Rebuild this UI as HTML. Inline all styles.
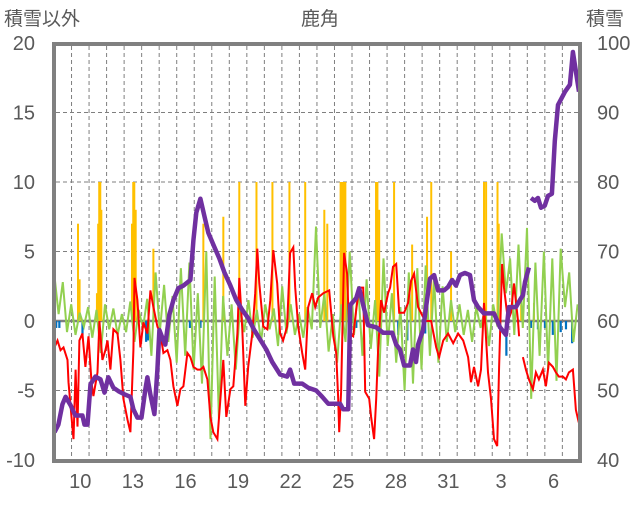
<!DOCTYPE html>
<html><head><meta charset="utf-8"><style>
html,body{margin:0;padding:0;background:#fff}
svg text{font-family:"Liberation Sans","Noto Sans CJK JP",sans-serif;fill:#595959}
</style></head><body>
<svg id="chart" width="636" height="501" viewBox="0 0 636 501" xmlns="http://www.w3.org/2000/svg">
<text x="4" y="25" font-size="19">積雪以外</text>
<text x="320" y="25" font-size="19" text-anchor="middle">鹿角</text>
<text x="586" y="25" font-size="19">積雪</text>
<g id="grid"></g><g id="bars"></g><g id="lines"></g><g id="axes"></g>
</svg>
<script>
const dayLabels=["10","13","16","19","22","25","28","31","3","6"];
const dayLabelOffsets=[1,4,7,10,13,16,19,22,25,28];
const leftTicks=[20,15,10,5,0,-5,-10];
const rightTicks=[100,90,80,70,60,50,40];
const snowT=[0.03,0.25,0.48,0.66,0.94,1.22,1.62,1.74,1.91,2.08,2.36,2.65,2.88,3.1,3.39,3.68,4.07,4.36,4.53,4.76,4.99,5.21,5.33,5.5,5.73,5.9,6.01,6.18,6.35,6.58,6.81,7.09,7.38,7.78,7.95,8.12,8.35,8.58,8.8,9.14,9.43,9.72,10.06,10.4,10.74,11.08,11.42,11.77,12.11,12.45,12.9,13.3,13.47,13.7,14.16,14.5,14.96,15.3,15.64,16.32,16.5,16.78,16.9,17.24,17.41,17.64,17.92,18.38,18.78,19.29,19.52,19.74,19.97,20.31,20.48,20.65,20.77,21.05,21.28,21.45,21.68,21.91,22.25,22.48,22.71,22.93,23.16,23.44,23.73,23.96,24.19,24.53,25.1,25.44,25.78,25.95,26.35,26.58,26.75,26.87,27.09,27.15,27.21,27.43,27.61,27.78,28.0,28.18,28.4,28.57,28.75,28.92,29.15,29.43,29.6,29.77,29.95];
const snowV=[44,45.1,48,49.1,47.9,46.4,46.4,45.1,45.1,50.9,52,51.6,49.7,51.9,50.4,49.9,49.4,49.1,47.3,46.1,46.1,50.1,51.9,49.4,46.6,53,58.7,57.6,56.6,60.9,63,64.7,65.1,65.9,71.6,75.6,77.6,75.1,72.7,70.7,69,67,65.1,63,61.6,60.4,58.7,57.3,55.9,54.1,52.3,52,53,51,51,50.4,50,49.1,48.1,48.1,47.3,47.3,62.3,63.3,64.7,62.3,59.4,59.1,58.3,58.3,56.6,55.9,53.6,53.6,55.9,54.1,56.6,58.7,63,66.1,66.6,64.4,64.4,64.9,65.9,65.1,66.6,66.9,66.6,63,62,61.1,61.1,59.1,58,62,62,63,63.7,65.6,67.7,null,77.7,77.3,77.7,76.3,76.6,78,78.3,85.9,91.1,91.9,93,94,98.7,95.9,93];
const tempT=[0.03,0.2,0.37,0.54,0.77,0.83,1.0,1.11,1.23,1.34,1.45,1.62,1.79,1.97,2.14,2.25,2.48,2.59,2.76,2.93,3.05,3.22,3.39,3.62,3.79,3.96,4.19,4.36,4.53,4.59,4.76,4.93,5.1,5.33,5.5,5.67,5.9,6.07,6.24,6.47,6.64,6.81,7.04,7.21,7.38,7.61,7.78,7.95,8.18,8.35,8.52,8.75,8.92,9.09,9.32,9.49,9.66,9.83,10.06,10.23,10.46,10.57,10.74,10.91,11.08,11.31,11.48,11.6,11.71,11.94,12.17,12.34,12.51,12.73,12.9,13.07,13.3,13.47,13.65,13.76,13.93,14.16,14.33,14.5,14.73,14.9,15.07,15.36,15.7,15.93,16.1,16.21,16.27,16.38,16.55,16.72,16.84,17.07,17.24,17.41,17.64,17.75,17.98,18.09,18.26,18.38,18.49,18.66,18.83,19.06,19.17,19.34,19.52,19.69,19.97,20.2,20.37,20.54,20.77,21.05,21.22,21.51,21.8,21.97,22.2,22.48,22.77,23.05,23.34,23.62,23.79,23.96,24.19,24.36,24.53,24.76,24.93,25.1,25.28,25.39,25.56,25.67,25.9,26.07,26.24,26.47,26.53,26.6,26.75,26.92,27.09,27.32,27.49,27.66,27.89,28.06,28.23,28.46,28.63,28.8,29.03,29.2,29.37,29.6,29.77,29.94];
const tempV=[-1.9,-1.4,-2.1,-1.9,-2.8,-4.4,-6.9,-8.5,-3.5,-7.6,-1.4,-0.9,-3.3,-1.1,-4.4,-5.4,-3.7,0,-2.8,-2.1,-1.4,-3.5,-0.6,-0.9,-2.8,-5.6,-7.1,-8,-2.1,3.1,1.5,-1.9,-0.1,-0.9,2.2,1,-0.4,-0.9,-2.3,-2.1,-2.8,-4.7,-6.1,-4.9,-4.7,-2.3,-2.6,-3.3,-3.5,-3.5,-3.3,-4.2,-6.9,-8,-8.5,-5.6,-2.8,-6.9,-4.9,-4.7,-0.9,3.1,-0.6,-6.1,-3.3,-0.9,2,5.2,2.7,-0.4,-0.6,1.5,5.1,2.7,-0.9,-1.4,-0.4,4.9,5.3,2.4,-0.4,-2.3,-3.5,1,2,1,1.7,2,2.2,-1.1,-2.3,-5.6,-8,-5.1,4.9,3.4,-0.9,-1.1,0.8,2.4,2.4,-5.1,-5.6,-6.9,-8.5,-5.6,-2.1,1.5,0.6,2,2.4,3.9,4.1,0.6,0.6,1.3,2.9,3.4,1,0.3,0,0,-1.9,-2.6,-1.4,-0.9,-1.6,-0.9,-1.4,-2.6,-4.4,-3.3,-4.7,-3.5,1.3,-3.7,-5.6,-8.5,-9,-3.3,4.1,2.4,0,0.6,2.7,0,-1.1,null,-2.6,-3.5,-4.2,-4.9,-3.7,-4.2,-3.5,-4.7,-3,-3.3,-3.7,-4,-4,-4.2,-3.7,-3.5,-6.4,-7.3];
const windV=[3.3,0.5,2.8,-0.8,1.2,-1,0.6,-0.4,1.0,-1.2,0.8,-2.3,1.2,-0.6,0.9,-1.0,0.5,-0.8,1.4,-1.5,0.8,-0.5,1.6,-2.5,3.5,-0.8,2.6,-1.5,1.8,-3.0,3.8,-2.5,4.2,-3.5,2.0,-4.5,5.0,-8.5,3.2,-7.0,1.8,-2.5,1.2,-3.5,1.0,-0.8,1.5,-1.2,0.8,-1.5,1.2,-0.6,0.9,-1.8,2.5,-0.9,1.2,-1.0,0.5,-1.2,1.0,-0.6,6.8,-0.5,2.0,-2.2,0.5,-3.0,1.2,-1.5,5.0,-1.0,2.5,-2.5,3.0,-2.0,1.5,-4.0,4.5,-1.8,2.0,-3.0,1.0,-5.0,3.5,-4.5,3.8,-3.5,4.0,-2.5,3.0,-3.0,2.5,-1.5,1.5,-0.8,1.2,-1.0,0.8,-1.5,1.0,-0.5,0.8,-1.8,1.2,-0.4,6.3,2.0,4.5,-1.0,5.5,-0.5,6.7,-5.6,4.2,-2.5,5.0,-3.5,4.5,-4.3,5.2,1.0,3.5,-1.5,1.2];
const precipT=[1.37,1.46,2.45,2.52,2.58,2.64,2.7,4.45,4.52,4.58,4.66,5.67,8.52,9.66,10.57,11.55,12.46,13.43,14.33,15.42,15.59,16.35,16.43,16.52,16.62,18.37,18.45,18.55,19.4,20.43,21.28,21.52,22.65,24.53,24.65,25.3,25.37,26.65,27.38];
const precipV=[7,3,2,7,10,10,8,7,10,10,8,5.2,7,7.5,10,10,10,10,10,8,7,10,10,10,10,10,10,8,10,5.5,7.5,10,5,10,10,10,7,1.2,1.3];
const neg=[0.12,0.3,1.62,5.25,5.35,7.75,8.35,17.24,19.63,20.15,21.17,25.8,27.2,27.6,28.0,28.45,28.9,29.2,29.55];
const negV=[-0.5,-0.5,-1,-1.5,-1.4,-0.5,-0.5,-0.5,-1.0,-1.4,-0.9,-2.5,-0.5,-0.6,-0.5,-1.0,-0.8,-0.6,-1.6];
const NS="http://www.w3.org/2000/svg";
const X0=54,DAYW=17.53;
function xs(t){return X0+t*DAYW;}
function yl(v){return 321-v*13.9;}
function yr(v){return 321-(v-60)*6.95;}
function mk(tag,parent,attrs){const e=document.createElementNS(NS,tag);for(const k in attrs)e.setAttribute(k,attrs[k]);parent.appendChild(e);return e;}
const grid=document.getElementById('grid'),bars=document.getElementById('bars'),lines=document.getElementById('lines'),axes=document.getElementById('axes');
for(let d=1;d<30;d++){const l=mk('line',grid,{x1:xs(d),x2:xs(d),y1:46,y2:459,stroke:'#7f7f7f','stroke-width':1,'stroke-dasharray':'4,3'});

}
leftTicks.forEach(v=>{if(v===20||v===-10||v===0)return;const l=mk('line',grid,{x1:56,x2:578,y1:yl(v),y2:yl(v),stroke:'#7f7f7f','stroke-width':1,'stroke-dasharray':'4,3'});

});
precipT.forEach((t,i)=>{const v=Math.min(precipV[i],10);const r=mk('rect',bars,{x:xs(t)-1,y:yl(v),width:2,height:yl(0)-yl(v),fill:'#ffc000'});

});
neg.forEach((t,i)=>{const r=mk('rect',bars,{x:xs(t)-1,y:yl(0),width:2.2,height:yl(negV[i])-yl(0),fill:'#0070c0'});

});
const zl=mk('line',grid,{x1:56,x2:578,y1:yl(0),y2:yl(0),stroke:'#7f7f7f','stroke-width':2.5});


function path(T,V,yf){let d='',pen=false;T.forEach((t,i)=>{const v=V[i];if(v===null){pen=false;return;}d+=(pen?'L':'M')+xs(t).toFixed(1)+','+yf(v).toFixed(1);pen=true;});return d;}
const windT=windV.map((v,i)=>i*30/(windV.length-1)*0.995+0.02);
const g=mk('path',lines,{d:path(windT,windV,yl),fill:'none',stroke:'#92d050','stroke-width':2});


const r=mk('path',lines,{d:path(tempT,tempV,yl),fill:'none',stroke:'#ff0000','stroke-width':2});


const p=mk('path',lines,{d:path(snowT,snowV,yr),fill:'none',stroke:'#7030a0','stroke-width':4.5,'stroke-linejoin':'round'});


const fr=mk('rect',axes,{x:54,y:44,width:526,height:417,fill:'none',stroke:'#808080','stroke-width':4});


leftTicks.forEach(v=>{const t=mk('text',axes,{x:35,y:yl(v)+7,'font-size':20,'text-anchor':'end'});t.textContent=v;

});
rightTicks.forEach(v=>{const t=mk('text',axes,{x:597,y:yr(v)+7,'font-size':20});t.textContent=v;

});
dayLabels.forEach((s,i)=>{const t=mk('text',axes,{x:xs(dayLabelOffsets[i]+0.5),y:488,'font-size':20,'text-anchor':'middle'});t.textContent=s;

});
</script>
</body></html>
